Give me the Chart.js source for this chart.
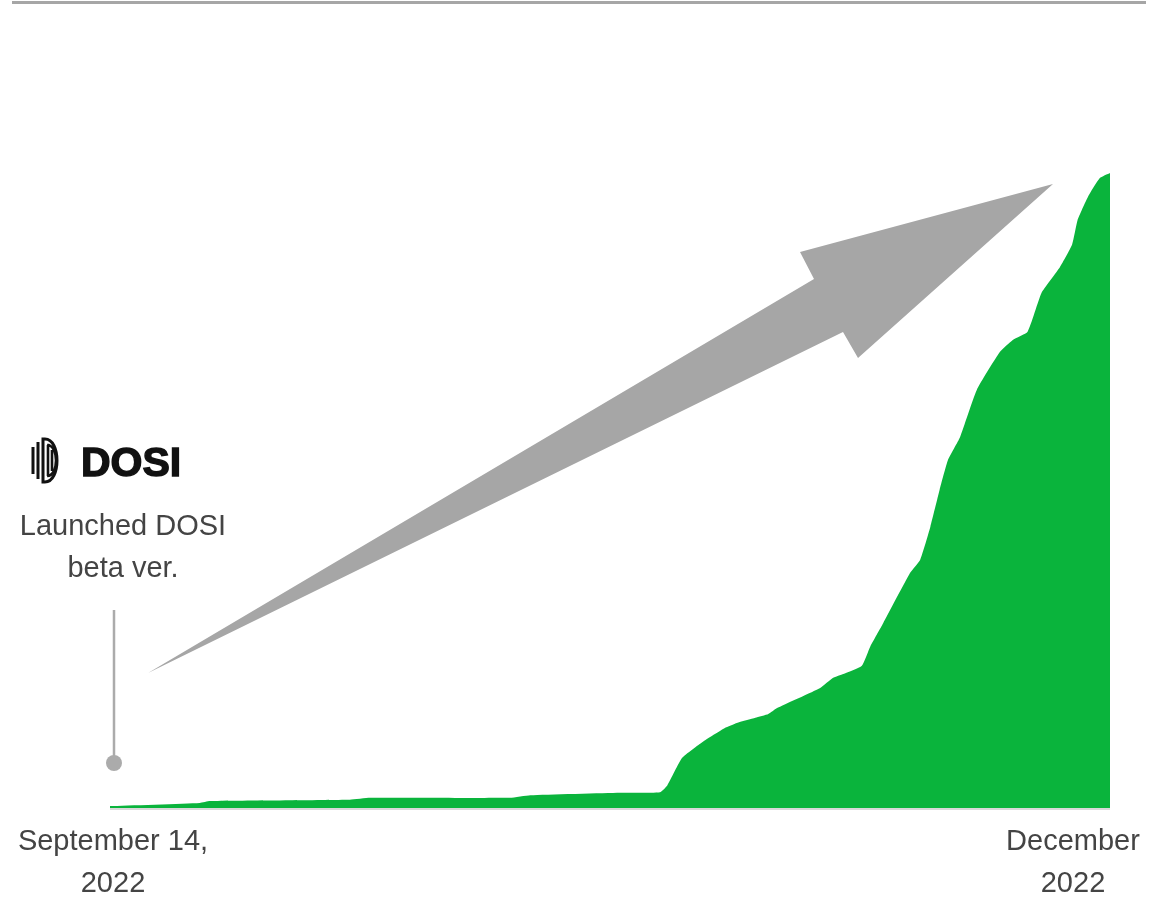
<!DOCTYPE html>
<html>
<head>
<meta charset="utf-8">
<script src="https://cdn.jsdelivr.net/npm/chart.js@4/dist/chart.umd.min.js"></script>
<style>
  html, body { margin: 0; padding: 0; background: #fff; }
  #wrap { width: 1153px; height: 898px; }
</style>
</head>
<body>
<div id="wrap"><canvas id="chart" width="1153" height="898"></canvas></div>
<script>
// days since Sep 14, 2022
const days = [0, 9.7, 10.8, 25.9, 28.1, 43.2, 45.4, 55.1, 59.4, 60.2, 61.8, 64.0, 66.4, 67.7,
  69.7, 71.1, 72.0, 76.7, 78.1, 79.2, 81.2, 82.1, 83.5, 86.4, 87.5, 88.6, 89.6, 90.5, 91.8,
  93.6, 96.1, 97.5, 99.1, 100.6, 102.6, 103.9, 104.5, 105.6, 106.9, 108];
// cumulative growth, indexed so the last value is 100
const growth = [0.3, 0.8, 1.1, 1.3, 1.6, 1.6, 2.0, 2.4, 2.5, 3.6, 7.9, 10.4, 12.6, 13.4,
  14.2, 14.8, 15.7, 18.9, 20.5, 21.1, 22.4, 25.4, 29.1, 37.0, 39.1, 44.3, 50.1, 54.8, 58.4,
  65.8, 71.8, 73.7, 75.0, 81.1, 85.2, 88.7, 92.6, 96.2, 99.2, 100];
const startLabel = ["September 14,", "2022"];
const endLabel = ["December", "2022"];
const noteLabel = ["Launched DOSI", "beta ver."];

const GREEN = "#0ab43c";
const GREY = "#a6a6a6";
const TEXT = "#444444";

function dShape(ctx, x, y, w, h) {
  const r = h / 2;
  ctx.beginPath();
  ctx.moveTo(x, y);
  ctx.lineTo(x + w - r * 0.7, y);
  ctx.bezierCurveTo(x + w + 1, y, x + w + 1, y + h, x + w - r * 0.7, y + h);
  ctx.lineTo(x, y + h);
  ctx.closePath();
  ctx.stroke();
}

function drawLogo(ctx, x, y) {
  // rough DOSI mark: bars + nested D outlines
  ctx.save();
  ctx.strokeStyle = "#111";
  ctx.lineWidth = 3;
  ctx.beginPath();
  ctx.moveTo(x + 2, y + 9); ctx.lineTo(x + 2, y + 36);
  ctx.moveTo(x + 7, y + 4); ctx.lineTo(x + 7, y + 41);
  ctx.stroke();
  dShape(ctx, x + 12, y + 1, 17, 43);
  ctx.lineWidth = 2.6;
  dShape(ctx, x + 17, y + 7, 10, 31);
  ctx.beginPath();
  ctx.moveTo(x + 21, y + 12); ctx.lineTo(x + 21, y + 33);
  ctx.stroke();
  ctx.restore();

  ctx.save();
  ctx.fillStyle = "#111";
  ctx.strokeStyle = "#111";
  ctx.lineWidth = 1.4;
  ctx.font = "bold 41px 'Liberation Sans', Arial, sans-serif";
  ctx.textBaseline = "alphabetic";
  ctx.textAlign = "left";
  ctx.fillText("DOSI", x + 50, y + 38);
  ctx.strokeText("DOSI", x + 50, y + 38);
  ctx.restore();
}

const decor = {
  id: "decor",
  afterDraw(chart) {
    const ctx = chart.ctx;
    const area = chart.chartArea;
    const xs = chart.scales.x;

    // top rule
    ctx.save();
    ctx.fillStyle = GREY;
    ctx.fillRect(12, 1, 1134, 3);

    // baseline
    ctx.fillStyle = "#d9d9d9";
    ctx.fillRect(area.left, area.bottom, area.right - area.left, 2);

    // launch marker
    const mx = xs.getPixelForValue(0) + 4;
    ctx.strokeStyle = "#ababab";
    ctx.lineWidth = 2.5;
    ctx.beginPath();
    ctx.moveTo(mx, 610);
    ctx.lineTo(mx, 763);
    ctx.stroke();
    ctx.fillStyle = "#ababab";
    ctx.beginPath();
    ctx.arc(mx, 763, 8, 0, Math.PI * 2);
    ctx.fill();

    // big arrow
    ctx.fillStyle = GREY;
    ctx.beginPath();
    ctx.moveTo(148, 673);
    ctx.lineTo(814, 279);
    ctx.lineTo(800, 252);
    ctx.lineTo(1053, 184);
    ctx.lineTo(858, 358);
    ctx.lineTo(843, 332);
    ctx.closePath();
    ctx.fill();

    // texts
    ctx.fillStyle = TEXT;
    ctx.font = "29px 'Liberation Sans', Arial, sans-serif";
    ctx.textAlign = "center";
    ctx.textBaseline = "middle";
    ctx.fillText(noteLabel[0], 123, 527);
    ctx.fillText(noteLabel[1], 123, 569);
    ctx.fillText(startLabel[0], 113, 842);
    ctx.fillText(startLabel[1], 113, 884);
    ctx.fillText(endLabel[0], 1073, 842);
    ctx.fillText(endLabel[1], 1073, 884);
    ctx.restore();

    drawLogo(ctx, 31, 438);
  }
};

new Chart(document.getElementById("chart"), {
  type: "line",
  data: {
    datasets: [{
      data: days.map((d, i) => ({ x: d, y: growth[i] })),
      fill: "origin",
      backgroundColor: GREEN,
      borderColor: GREEN,
      borderWidth: 0,
      pointRadius: 0,
      tension: 0.15
    }]
  },
  options: {
    responsive: false,
    animation: false,
    layout: { padding: { left: 110, right: 43, top: 173, bottom: 90 } },
    plugins: { legend: { display: false }, tooltip: { enabled: false } },
    scales: {
      x: { type: "linear", min: 0, max: 108, display: false },
      y: { min: 0, max: 100, display: false }
    }
  },
  plugins: [decor]
});
</script>
</body>
</html>
